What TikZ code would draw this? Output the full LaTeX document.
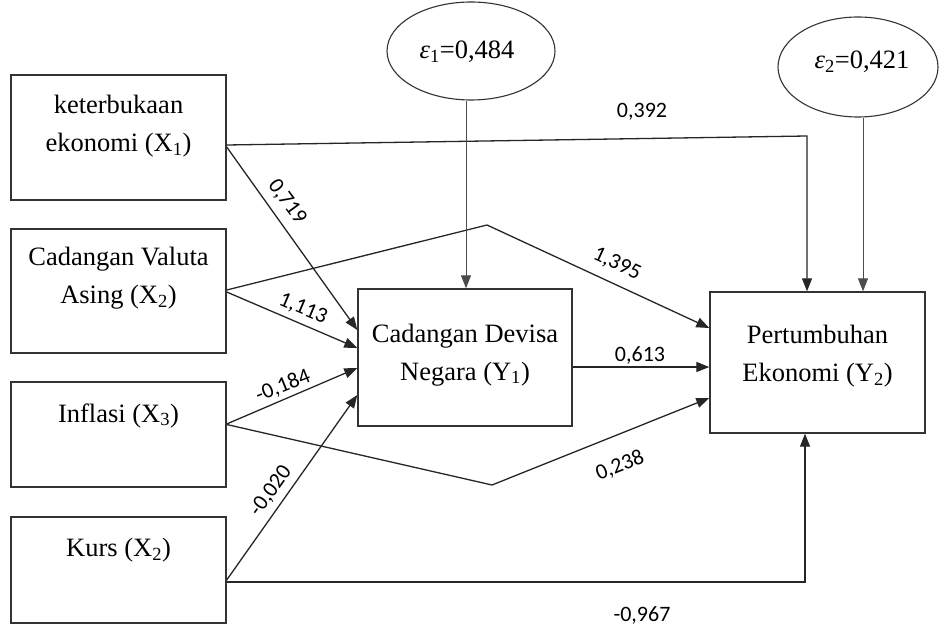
\documentclass[tikz,border=0pt]{standalone}
\usepackage{fontspec}
\setmainfont{Liberation Serif}
\newfontfamily\lblfont{Carlito}
\usetikzlibrary{arrows.meta,shapes.geometric,calc}
\begin{document}
\begin{tikzpicture}[x=1pt,y=-1pt,
  box/.style={draw=black!80, line width=1.4pt, rectangle, inner sep=0pt},
  err/.style={draw=black!80, line width=1.1pt, ellipse, inner sep=0pt},
  errtxt/.style={font=\fontsize{26.5}{30}\selectfont, inner sep=0pt},
  txt/.style={font=\fontsize{26.5}{38}\selectfont, align=center, inner sep=0pt},
  lbl/.style={font=\lblfont\fontsize{22}{26}\selectfont, inner sep=0pt},
  conn/.style={draw=black!85, line width=1.3pt, -{Triangle[length=13pt,width=10pt]}},
  econn/.style={draw=black!70, line width=1pt, -{Triangle[length=13pt,width=10pt]}}
]
\fill[white] (0,0) rectangle (939,628);
\useasboundingbox (0,0) rectangle (939,628);

% boxes
\node[box, minimum width=215pt, minimum height=125pt] (x1) at (118.5,137.5) {};
\node[txt] (t1) at (118.5,126.3) {keterbukaan\\ekonomi (X\textsubscript{1})};
\node[box, minimum width=215pt, minimum height=124pt] (x2) at (118.5,291) {};
\node[txt] (t2) at (118.5,278.5) {Cadangan Valuta\\Asing (X\textsubscript{2})};
\node[box, minimum width=215pt, minimum height=105pt] (x3) at (118.5,434.5) {};
\node[txt] (t3) at (118.5,415.6) {Inflasi (X\textsubscript{3})};
\node[box, minimum width=215pt, minimum height=106pt] (x4) at (118.5,570) {};
\node[txt] (t4) at (118.5,550.6) {Kurs (X\textsubscript{2})};
\node[box, minimum width=214pt, minimum height=137pt] (y1) at (465,357.5) {};
\node[txt] (t5) at (465,354.8) {Cadangan Devisa\\Negara (Y\textsubscript{1})};
\node[box, minimum width=215pt, minimum height=141pt] (y2) at (817.5,362.5) {};
\node[txt] (t6) at (817.5,356.3) {Pertumbuhan\\Ekonomi (Y\textsubscript{2})};

% error terms
\node[err, minimum width=168pt, minimum height=98pt] (e1) at (471,51) {};
\node[errtxt] (et1) at (467,52) {\textit{ε}\textsubscript{1}=0,484};
\node[err, minimum width=160pt, minimum height=100pt] (e2) at (858,67) {};
\node[errtxt] (et2) at (862,62) {\textit{ε}\textsubscript{2}=0,421};

% bend points
\coordinate (c1) at (807,136);
\coordinate (c2) at (487,225);
\coordinate (c3) at (492,485);
\coordinate (c4) at (805,582);

% connectors
\draw[conn] ([yshift=-7.5pt]x1.east) -- (c1) -- (c1 |- y2.north);
\draw[conn] ([yshift=-9.5pt]x1.east) -- ([yshift=27.5pt]y1.west);
\draw[conn] ([yshift=1pt]x2.east) -- (c2) -- ([yshift=34.5pt]y2.west);
\draw[conn] ([yshift=-1pt]x2.east) -- ([yshift=9.5pt]y1.west);
\draw[conn] ([yshift=10.5pt]x3.east) -- ([yshift=-10.5pt]y1.west);
\draw[conn] ([yshift=10pt]x3.east) -- (c3) -- ([yshift=-35.5pt]y2.west);
\draw[conn] ([yshift=-10pt]x4.east) -- ([yshift=-37.5pt]y1.west);
\draw[conn] ([yshift=-12pt]x4.east) -- (c4) -- (c4 |- y2.south);
\draw[conn] ([yshift=-9.5pt]y1.east) -- ([yshift=-4.5pt]y2.west);
\draw[econn] ([xshift=-5pt]e1.south) -- ([xshift=-5pt]e1.south |- y1.north);
\draw[econn] ([xshift=5pt]e2.south) -- ([xshift=5pt]e2.south |- y2.north);

% labels
\node[lbl] (l1) at (642,112) {0,392};
\node[lbl, rotate=-53.7] (l2) at (287,202) {0,719};
\node[lbl, rotate=-24.8] (l3) at (617,264) {1,395};
\node[lbl, rotate=-23] (l4) at (303,309) {1,113};
\node[lbl, rotate=21.9] (l5) at (283,386) {-0,184};
\node[lbl, rotate=21.8] (l6) at (620,466) {0,238};
\node[lbl, rotate=54.5] (l7) at (271,491) {-0,020};
\node[lbl] (l8) at (642,615) {-0,967};
\node[lbl] (l9) at (640,355) {0,613};
\end{tikzpicture}
\end{document}
